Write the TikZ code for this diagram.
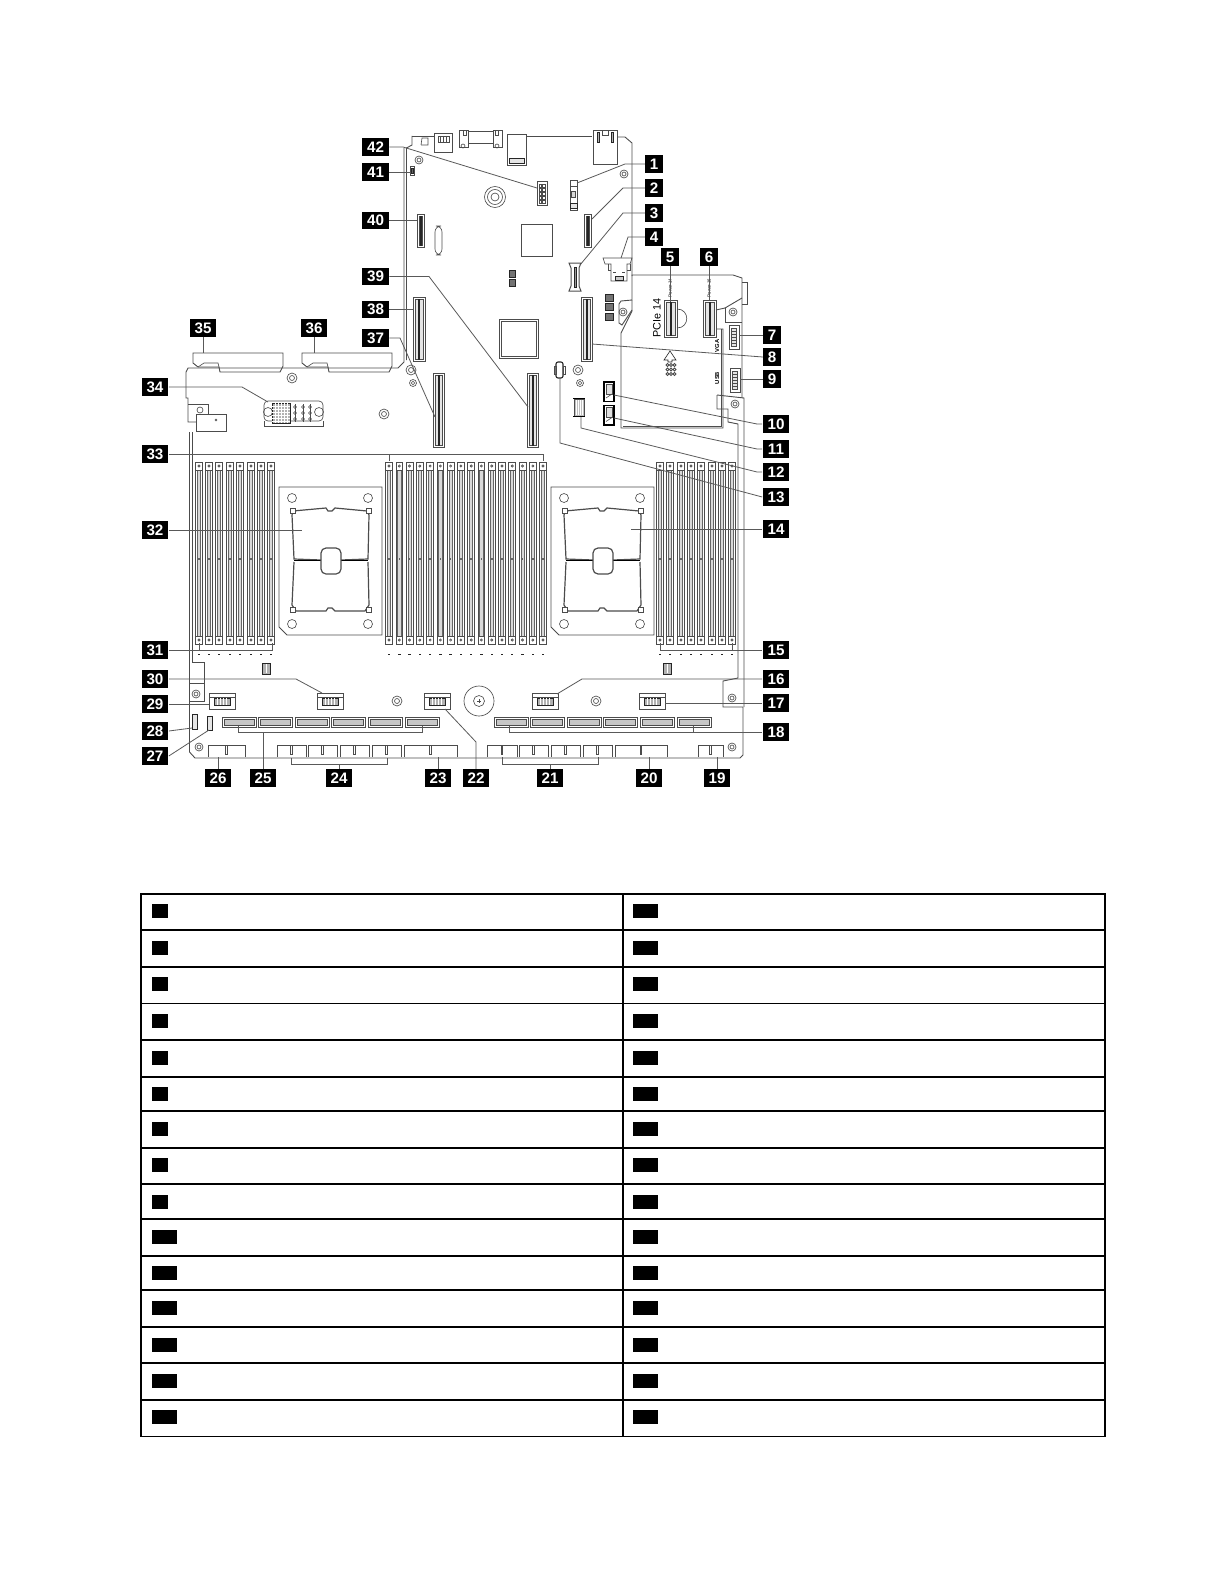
\documentclass[tikz,border=0pt]{standalone}
\usepackage{fontspec}
\setmainfont{Liberation Sans}
\begin{document}
\begin{tikzpicture}[x=0.5pt,y=-0.5pt]
        \tikzstyle{every node}+=[inner sep=0pt]
        \tikzstyle{part}=[draw=black!70,line width=0.32pt]
        \tikzstyle{edge}=[draw=black!70,line width=0.45pt]
        \tikzstyle{leader}=[draw=black!65,line width=0.4pt]
        \tikzstyle{dark}=[draw=black!85,fill=black!30,line width=0.3pt]
        \tikzstyle{badge}=[fill=black,text=white,font=\bfseries\fontsize{7.6}{7.6}\selectfont,minimum width=13.4pt,minimum height=8.8pt]
        \tikzstyle{badgeone}=[badge,minimum width=8.8pt]
        \tikzstyle{tablebox}=[fill=black,minimum height=7pt]
        \useasboundingbox (0,0) rectangle (1224,1584);

        \draw [edge] (412,136) -- (412,145) -- (406.5,148) -- (406.5,360);
        \draw [edge] (412,136) -- (434,136);
        \draw [edge] (404,148) -- (404,362) -- (398,368) -- (188,368) -- (186,372) -- (186,398) -- (188,398) -- (188,422) -- (196,422);
        \draw [edge] (188,404) -- (208,404) -- (208,414);
        \draw [part] (196,414) rectangle (226,431);
        \draw [part] (216,420) circle (1);
        \draw [part] (200,410) circle (3);
        \draw [edge] (527,136) -- (592,136);
        \draw [edge] (618,137) -- (625,137) -- (632,143) -- (632,300) -- (621,301) -- (619,304) -- (619,323) -- (622,325) -- (632,310);
        \draw [edge] (632,300) -- (632,311) -- (621,333) -- (621,428) -- (723,428) -- (723,329) -- (717,329);
        \draw [edge] (623,426) -- (721,426) -- (721,329);
        \draw [edge] (632,276) -- (632,275) -- (733,275) -- (742,278) -- (742,398);
        \draw [edge] (742,282) -- (747,282) -- (747,304) -- (742,304);
        \draw [edge] (742,298) -- (725,308) -- (716,310);
        \draw [edge] (725,308) -- (725,322) -- (742,322);
        \draw [edge] (717,395) -- (744,398) -- (744,707);
        \draw [edge] (717,395) -- (717,409) -- (728,409) -- (728,422) -- (738,424) -- (738,678) -- (723,681) -- (723,707) -- (743,707) -- (743,755) -- (740,758) -- (195,758) -- (189.5,752) -- (189.5,432);
        \draw [edge] (192.5,432) -- (192.5,662) -- (204,662) -- (204,683) -- (189.5,683);
        \draw [edge] (189.5,701) -- (204,701) -- (204,683);

        \draw [part] (421,145) -- (428,145) -- (428,138) -- (422,138) -- (421,145);
        \draw [part] (434,133) rectangle (452,152);
        \draw [part] (438,136) rectangle (449,142);
        \foreach \x in {440,443,446} \draw [part] (\x,136) -- (\x,142);
        \draw [part] (459,130) rectangle (468,147);
        \draw [part] (468,131) rectangle (493,143);
        \draw [part] (493,130) rectangle (502,147);
        \draw [part] (463,130) rectangle (466,135);
        \draw [part] (495,130) rectangle (498,135);
        \foreach \x in {463,497} \draw [part] (\x,146) circle (2);
        \draw [part] (507,134) rectangle (526,165);
        \draw [dark,fill=black!10] (509,158) rectangle (524,163);
        \draw [part] (593,130) rectangle (617,164);
        \draw [part] (602,130) rectangle (608,135);
        \draw [dark] (597,132) rectangle (599,142);
        \draw [dark] (611,132) rectangle (613,142);

        \foreach \x/\y/\r in {419/160/4,624/174/4,623/312/4,733/312/4,735/404/4,413/383/3.5,580/383/3.5,199/747/4,732/747/4,196/694/4,732/698/4} {
            \draw [part] (\x,\y) circle (\r);
            \draw [part] (\x,\y) circle (\r/2);
        }
        \foreach \x/\y in {292/378,384/414,411/370,578/370,397/701,596/701} {
            \draw [part] (\x,\y) circle (5);
            \draw [part] (\x,\y) circle (2.5);
        }
        \draw [part] (495,197) circle (10.5);
        \draw [part] (495,197) circle (7.5);
        \draw [part] (495,197) circle (4);
        \draw [part] (479,701) circle (15);
        \draw [part] (479,701) circle (5.5);
        \draw [part] (477,701) -- (481,701);
        \draw [part] (479,699) -- (479,703);

        \draw [part,rounded corners=3pt] (435,226) rectangle (442,255);
        \draw [part] (521,224) rectangle (552,256);
        \draw [part] (499,319) rectangle (538,358);
        \draw [part] (501,321) rectangle (536,356);
        \foreach \y in {270,279} \draw [dark,fill=black!55] (509,\y) rectangle (515,{\y+7});
        \foreach \y in {294,303,313} \draw [dark,fill=black!55] (605,\y) rectangle (613,{\y+7});

        \draw [part,line width=0.45pt] (537,181) rectangle (547,205);
        \foreach \y in {184,188,192,196,200} {
            \draw [part] (539,\y) rectangle (541.5,{\y+3});
            \draw [part] (542.5,\y) rectangle (545,{\y+3});
        }
        \draw [part] (410,166) rectangle (414,175);
        \draw [dark,fill=black!60] (411,168) rectangle (413,173);
        \draw [part,line width=0.45pt] (570,180) rectangle (577,210);
        \draw [part] (570,186) -- (577,186);
        \draw [part,fill=black!15] (571.5,191) rectangle (575.5,197);
        \draw [dark,fill=black!10] (570,203) rectangle (577,208);
        \draw [part,line width=0.5pt] (569,263) -- (581,263) -- (579,268) -- (579,286) -- (581,291) -- (569,291) -- (571,286) -- (571,268) -- cycle;
        \draw [dark,fill=black!40] (574,267) rectangle (576,287);
        \draw [part] (603,258) -- (632,258) -- (630,264) -- (627,264) -- (627,281) -- (611,281) -- (611,264) -- (605,264) -- cycle;
        \draw [part] (608,264) -- (608,270) -- (611,270);
        \draw [part] (627,270) -- (630,270) -- (630,264);
        \draw [dark,fill=black!20] (615,276) rectangle (623,280);
        \draw [part] (613,272) -- (616,272);
        \draw [part] (622,272) -- (625,272);
        \foreach \y in {382,405.5} {
            \draw [draw=black,line width=0.55pt] (604,\y) rectangle (614,{\y+19.5});
            \draw [part,fill=black!12] (606,{\y+2}) rectangle (612,{\y+12});
            \draw [part] (606,{\y+16}) -- (612,{\y+12});
        }
        \draw [part,fill=black!25] (574,399) rectangle (584,416);
        \foreach \x in {576,578,580,582} \draw [draw=white,line width=0.3pt] (\x,400) -- (\x,415);
        \draw [draw=black,line width=0.5pt] (573,398) -- (585,398);
        \draw [draw=black,line width=0.5pt] (573,416.5) -- (585,416.5);
        \draw [draw=black!85,line width=0.55pt,rounded corners=1pt] (556,362) rectangle (563,378);
        \draw [part] (554,366) rectangle (556,374);
        \draw [part] (563,366) rectangle (565,374);
        \foreach \x/\y in {729/325,730/368} {
            \draw [part,line width=0.45pt] (\x,\y) rectangle ({\x+10},{\y+24});
            \draw [part,fill=black!10] ({\x+2.5},{\y+3}) rectangle ({\x+7.5},{\y+21});
            \foreach \t in {6,9,12,15,18} \draw [part] ({\x+2.5},{\y+\t}) -- ({\x+7.5},{\y+\t});
        }

        \foreach \xa/\ya/\xb/\yb in {417/214/424/247,584/214/591/247,413/297/425/361,581/297/592/361,433/373/444/447,527/373/538/447,664/300/677/337,703/300/716/337} {
            \draw [part,line width=0.45pt] (\xa,\ya) rectangle (\xb,\yb);
            \draw [part,fill=black!10] ({\xa+2},{\ya+2}) rectangle ({\xb-2},{\yb-2});
            \draw [dark] ({(\xa+\xb)/2-0.4},{\ya+2}) rectangle ({(\xa+\xb)/2+0.4},{\yb-2});
        }
        \draw [part] (677,309) .. controls (690,309) and (690,328) .. (677,328);
        \draw [dark,fill=white] (664,360) -- (670,351) -- (676,360) -- (672,360) -- (672,362) -- (668,362) -- (668,360) -- cycle;
        \foreach \y in {365,369.5,374} \foreach \x in {667.5,671,674.5} \draw [part,line width=0.5pt] (\x,\y) circle (1.5);

        \node [rotate=90,font=\fontsize{5.4}{5.4}\selectfont] (pcie) at (657,318) {PCIe 14};
        \node [rotate=90,font=\fontsize{2.2}{2.2}\selectfont] (power14) at (670,288) {Power 14};
        \node [rotate=90,font=\fontsize{2.2}{2.2}\selectfont] (power16) at (709,288) {Power 16};
        \node [rotate=90,font=\bfseries\fontsize{2.9}{2.9}\selectfont] (vga) at (717,346) {VGA};
        \node [rotate=90,font=\bfseries\fontsize{2.9}{2.9}\selectfont] (usb) at (717,378) {USB};

        \foreach \dx in {0,109} {
            \draw [part,line width=0.45pt] ({193+\dx},353) -- ({283+\dx},353) -- ({283+\dx},366) -- ({280+\dx},372) -- ({220+\dx},372) -- ({219+\dx},367) -- ({198+\dx},367) -- ({193+\dx},363) -- cycle;
            \draw [part] ({198+\dx},367) -- ({204+\dx},363) -- ({218+\dx},363) -- ({219+\dx},367);
        }
        \draw [part,rounded corners=2pt] (264,401) rectangle (323,421);
        \draw [part] (264,421) -- (264,426) -- (323,426) -- (323,421);
        \draw [part] (268,412) circle (4.5);
        \draw [part] (319,412) circle (4.5);
        \draw [dark] (272,403) rectangle (290,423);
        \foreach \x in {275,278,281,284,287} \draw [draw=white,line width=0.25pt] (\x,403) -- (\x,423);
        \foreach \y in {406,409,412,415,418,421} \draw [draw=white,line width=0.25pt] (272,\y) -- (290,\y);
        \foreach \x in {295,303,310} {
            \draw [part] (\x,404) -- (\x,422);
            \foreach \y in {407,413,419} \draw [part] (\x,\y) circle (1.5);
        }

        \foreach \x in {199,209,219,230,240,251,261,271,389,399.3,409.5,419.8,430.1,440.4,450.6,460.9,471.2,481.4,491.7,502,512.2,522.5,532.8,543,660,670,681,691,701,712,722,732} {
            \draw [part,draw=black!60,fill=black!15] ({\x-1.6},470) rectangle ({\x+1.6},636);
            \draw [part] ({\x-3.4},470) -- ({\x-3.4},636);
            \draw [part] ({\x+3.4},470) -- ({\x+3.4},636);
            \draw [part] ({\x-3.4},462) rectangle ({\x+3.4},470);
            \draw [part] ({\x-3.4},636) rectangle ({\x+3.4},644);
            \draw [part] (\x,466) circle (1.1);
            \draw [part] (\x,640) circle (1.1);
            \fill [black!60] ({\x-0.8},558) rectangle ({\x+0.8},560);
            \fill [black!85] ({\x-1.2},653.5) rectangle ({\x+1.2},655);
        }

        \foreach \dx in {0,272} {
            \begin{scope}[xshift=\dx*0.5pt]
                \draw [part,line width=0.45pt] (279,487) -- (382,487) -- (382,635) -- (287,635) -- (279,627) -- cycle;
                \foreach \x/\y in {292/498,368/498,292/624,368/624} \draw [part] (\x,\y) circle (4.5);
                \draw [part,line width=0.6pt] (321,560) -- (294,559) -- (292,515) -- (293,511) -- (326,508) -- (328,511) -- (332,511) -- (335,508) -- (367,511) -- (369,515) -- (368,559) -- (341,560);
                \draw [part,line width=0.6pt] (294,562) -- (292,605) -- (296,611) -- (326,611) -- (328,608) -- (332,608) -- (335,611) -- (365,611) -- (369,605) -- (368,562);
                \draw [part,line width=0.9pt,draw=black] (294,560.5) -- (321,560.5);
                \draw [part,line width=0.9pt,draw=black] (341,560.5) -- (368,560.5);
                \draw [part,line width=0.6pt,rounded corners=2.5pt] (321,548) rectangle (341,574);
                \foreach \x/\y in {290/508,366/508,290/607,366/607} \draw [part,fill=white] (\x,\y) rectangle ({\x+5.5},{\y+5.5});
            \end{scope}
        }

        \foreach \x in {239,275.6,312.2,348.8,385.4,422,511,547.6,584.2,620.8,657.4,694} {
            \draw [part,line width=0.5pt] ({\x-17},717) rectangle ({\x+17},727);
            \draw [part,fill=black!22] ({\x-15},719.5) rectangle ({\x+15},725);
        }
        \foreach \xa/\xb in {208/245,277/306,308/337,340/369,372/401,404/457,487/517,519/548,551/580,583/612,615/667,698/723} {
            \draw [part] (\xa,757) -- (\xa,745) -- (\xb,745) -- (\xb,757);
            \draw [part] ({(\xa+\xb)/2-0.7},745) -- ({(\xa+\xb)/2-0.7},754) -- ({(\xa+\xb)/2+0.7},754) -- ({(\xa+\xb)/2+0.7},745);
        }
        \foreach \x in {222,330,437,545,652} {
            \draw [part,line width=0.45pt] ({\x-13},693) rectangle ({\x+13},709);
            \draw [part] ({\x-13},697) -- ({\x+13},697);
            \draw [dark] ({\x-8},698) rectangle ({\x+8},705);
            \foreach \t in {-5,-2,1,4} \draw [draw=white,line width=0.25pt] ({\x+\t},698) -- ({\x+\t},705);
        }
        \draw [dark,fill=black!10] (207,716) rectangle (212,730);
        \draw [dark,fill=black!10] (192,714) rectangle (197,729);
        \foreach \x in {262,663} {
            \draw [dark] (\x,663) rectangle ({\x+8.5},674);
            \draw [draw=white,line width=0.3pt] ({\x+4.2},664) -- ({\x+4.2},673);
        }

        \foreach \n/\x/\y in {1/577/183,2/592/219,3/580/265,4/621/258,5/670/302,6/709/300,7/739/335,8/592/344,9/740/379,10/614/395,11/614/418,12/581/417,13/560/378,14/631/529,15a/660/643,15b/732/643,16/557/694,17/665/703,18a/509/726,18b/693/726,19/717/757,20/649/757,21a/502/757,21b/598/757,22/445/709,23/438/757,24a/291/758,24b/387/758,25a/238/726,25b/422/726,26/218/757,27/209/730,28/192/728,29/209/704,30/322/693,31a/199/643,31b/272/643,32/302/530,33a/389/461,33b/543/461,34/268/402,35/203/353,36/314/353,37/435/417,38/413/309.5,39/528/407,40/417/220.5,41/411/172,42/537/188}
            \coordinate (e\n) at (\x,\y);

        \foreach \n/\x/\y in {1/654/164,2/654/188,3/654/213,4/654/237,5/670/257,6/709/257,7/772/335,8/772/357,9/772/379}
            \node [badgeone] (b\n) at (\x,\y) {\n};
        \foreach \n/\x/\y in {10/776/424,11/776/449,12/776/472,13/776/497,14/776/529,15/776/650,16/776/679,17/776/703,18/776/732,19/717/778,20/649/778,21/550/778,22/476/778,23/438/778,24/339/778,25/263/778,26/218/778,27/155/756,28/155/731,29/155/704,30/155/679,31/155/650,32/155/530,33/155/454,34/155/387,35/203/328,36/314/328,37/375.5/338,38/375.5/309.5,39/375.5/276.5,40/375.5/220.5,41/375.5/172,42/375.5/147}
            \node [badge] (b\n) at (\x,\y) {\n};

        \draw [leader] (b1.west) -- (625,164) -- (e1);
        \draw [leader] (b2.west) -- (623,188) -- (e2);
        \draw [leader] (b3.west) -- (623,213) -- (e3);
        \draw [leader] (b4.west) -- (628,237) -- (e4);
        \draw [leader] (b5.south) -- (e5);
        \draw [leader] (b6.south) -- (e6);
        \draw [leader] (b7.west) -- (e7);
        \draw [leader] (b8.west) -- (e8);
        \draw [leader] (b9.west) -- (e9);
        \draw [leader] (b10.west) -- (757,424) -- (e10);
        \draw [leader] (b11.west) -- (757,449) -- (e11);
        \draw [leader] (b12.west) -- (757,472) -- (581,428) -- (e12);
        \draw [leader] (b13.west) -- (560,443) -- (e13);
        \draw [leader] (b14.west) -- (e14);
        \draw [leader] (b15.west) -- (660,650) -- (e15a);
        \draw [leader] (732,650) -- (e15b);
        \draw [leader] (b16.west) -- (582,679) -- (e16);
        \draw [leader] (b17.west) -- (e17);
        \draw [leader] (b18.west) -- (509,732) -- (e18a);
        \draw [leader] (693,732) -- (e18b);
        \draw [leader] (b19.north) -- (e19);
        \draw [leader] (b20.north) -- (e20);
        \draw [leader] (b21.north) -- (550,764);
        \draw [leader] (e21a) -- (502,764) -- (598,764) -- (e21b);
        \draw [leader] (b22.north) -- (476,742) -- (e22);
        \draw [leader] (b23.north) -- (e23);
        \draw [leader] (b24.north) -- (339,764);
        \draw [leader] (e24a) -- (291,764) -- (387,764) -- (e24b);
        \draw [leader] (b25.north) -- (263,732);
        \draw [leader] (e25a) -- (238,732) -- (422,732) -- (e25b);
        \draw [leader] (b26.north) -- (e26);
        \draw [leader] (b27.east) -- (e27);
        \draw [leader] (b28.east) -- (e28);
        \draw [leader] (b29.east) -- (e29);
        \draw [leader] (b30.east) -- (296,679) -- (e30);
        \draw [leader] (b31.east) -- (272,650) -- (e31b);
        \draw [leader] (199,650) -- (e31a);
        \draw [leader] (b32.east) -- (e32);
        \draw [leader] (b33.east) -- (543,454) -- (e33b);
        \draw [leader] (389,454) -- (e33a);
        \draw [leader] (b34.east) -- (242,387) -- (e34);
        \draw [leader] (b35.south) -- (e35);
        \draw [leader] (b36.south) -- (e36);
        \draw [leader] (b37.east) -- (400,338) -- (e37);
        \draw [leader] (b38.east) -- (e38);
        \draw [leader] (b39.east) -- (429,276.5) -- (e39);
        \draw [leader] (b40.east) -- (e40);
        \draw [leader] (b41.east) -- (e41);
        \draw [leader] (b42.east) -- (403,147) -- (e42);

        \draw [black,line width=0.8pt] (141,894) rectangle (1105,1436.5);
        \draw [black,line width=0.8pt] (623,894) -- (623,1436.5);
        \foreach \y in {930,966.7,1003.3,1040,1076.7,1110.7,1147.7,1184,1219,1255.7,1289.7,1326.7,1362.7,1400}
            \draw [black,line width=0.8pt] (141,\y) -- (1105,\y);
        \foreach \n/\y in {1/911,2/948,3/984,4/1021,5/1058,6/1094,7/1129,8/1165,9/1202}
            \node [tablebox,minimum width=8pt] (tl\n) at (160,\y) {};
        \foreach \n/\y in {10/1237,11/1273,12/1308,13/1344.5,14/1381,15/1417}
            \node [tablebox,minimum width=12.5pt] (tl\n) at (164.5,\y) {};
        \foreach \n/\y in {1/911,2/948,3/984,4/1021,5/1058,6/1094,7/1129,8/1165,9/1202,10/1237,11/1273,12/1308,13/1344.5,14/1381,15/1417}
            \node [tablebox,minimum width=12.5pt] (tr\n) at (645.5,\y) {};
    \end{tikzpicture}
\end{document}
